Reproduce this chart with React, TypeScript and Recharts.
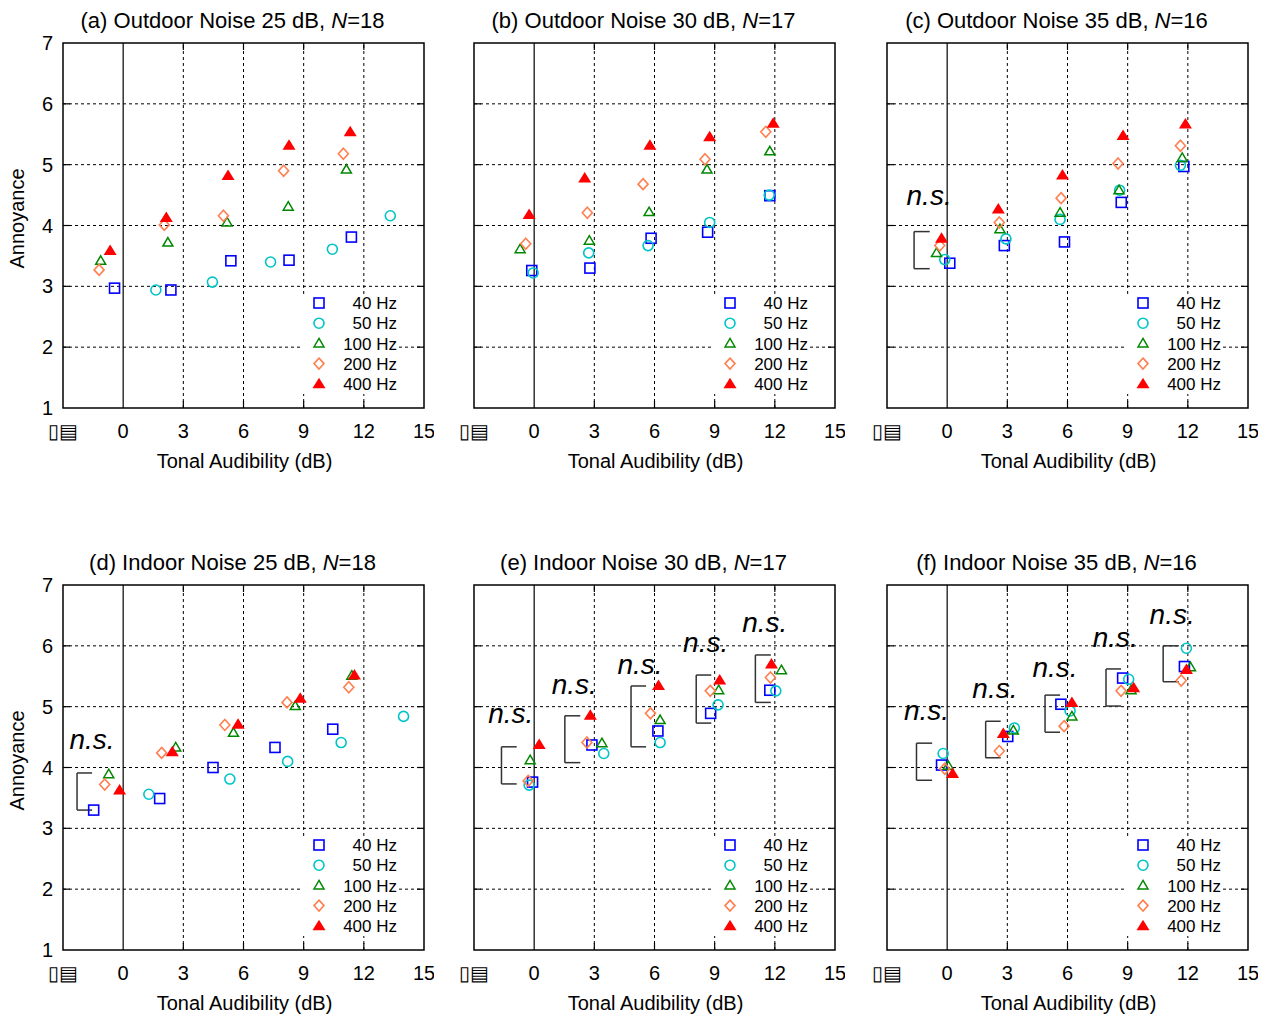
import {
  Label,
  Legend,
  ReferenceArea,
  ReferenceLine,
  Scatter,
  ScatterChart,
  XAxis,
  YAxis,
} from 'recharts'

type Pt = [number, number]
type Bracket = [number, number, number, number] // x of spine, x of arms, y top, y bottom

const FREQS = ['40 Hz', '50 Hz', '100 Hz', '200 Hz', '400 Hz']
const COLORS = ['#0000ff', '#00c4c8', '#008800', '#ff7f50', '#ff0000']
const X_TICKS = [-3, 0, 3, 6, 9, 12, 15]
const Y_TICKS = [1, 2, 3, 4, 5, 6, 7]
const X_GRID = [3, 6, 9, 12]
const Y_GRID = [2, 3, 4, 5, 6]

// [tonal audibility, annoyance] — one row per frequency (40, 50, 100, 200, 400 Hz)
const outdoor25: Pt[][] = [
  [[-0.43, 2.97], [2.38, 2.94], [5.37, 3.42], [8.27, 3.43], [11.38, 3.81]],
  [[1.63, 2.94], [4.45, 3.07], [7.35, 3.4], [10.43, 3.61], [13.32, 4.16]],
  [[-1.12, 3.42], [2.23, 3.72], [5.18, 4.05], [8.23, 4.31], [11.13, 4.92]],
  [[-1.2, 3.27], [2.05, 4.01], [5.0, 4.16], [8.0, 4.9], [10.98, 5.18]],
  [[-0.65, 3.59], [2.15, 4.13], [5.23, 4.82], [8.27, 5.32], [11.32, 5.54]],
]
const outdoor30: Pt[][] = [
  [[-0.12, 3.26], [2.78, 3.3], [5.83, 3.79], [8.65, 3.89], [11.75, 4.49]],
  [[-0.05, 3.22], [2.72, 3.55], [5.68, 3.67], [8.75, 4.05], [11.72, 4.5]],
  [[-0.7, 3.61], [2.75, 3.75], [5.73, 4.22], [8.62, 4.92], [11.75, 5.22]],
  [[-0.42, 3.7], [2.65, 4.21], [5.43, 4.68], [8.52, 5.09], [11.55, 5.54]],
  [[-0.25, 4.18], [2.52, 4.78], [5.77, 5.32], [8.75, 5.46], [11.92, 5.68]],
]
const outdoor35: Pt[][] = [
  [[0.13, 3.38], [2.85, 3.67], [5.85, 3.73], [8.68, 4.38], [11.8, 4.97]],
  [[-0.12, 3.44], [2.93, 3.78], [5.63, 4.1], [8.6, 4.58], [11.63, 4.99]],
  [[-0.53, 3.55], [2.63, 3.94], [5.63, 4.21], [8.57, 4.58], [11.72, 5.11]],
  [[-0.37, 3.67], [2.6, 4.05], [5.68, 4.45], [8.52, 5.02], [11.63, 5.31]],
  [[-0.28, 3.79], [2.55, 4.27], [5.75, 4.83], [8.77, 5.48], [11.88, 5.67]],
]
const indoor25: Pt[][] = [
  [[-1.47, 3.3], [1.82, 3.49], [4.48, 4.0], [7.57, 4.33], [10.45, 4.63]],
  [[1.28, 3.56], [5.32, 3.81], [8.2, 4.1], [10.87, 4.41], [13.98, 4.84]],
  [[-0.72, 3.89], [2.62, 4.33], [5.5, 4.57], [8.58, 5.01], [11.4, 5.51]],
  [[-0.92, 3.72], [1.92, 4.24], [5.07, 4.7], [8.17, 5.07], [11.25, 5.32]],
  [[-0.18, 3.63], [2.45, 4.26], [5.73, 4.71], [8.83, 5.14], [11.53, 5.52]],
]
const indoor30: Pt[][] = [
  [[-0.08, 3.76], [2.88, 4.37], [6.17, 4.6], [8.8, 4.89], [11.75, 5.27]],
  [[-0.25, 3.71], [3.47, 4.23], [6.28, 4.41], [9.17, 5.03], [12.05, 5.26]],
  [[-0.2, 4.12], [3.38, 4.4], [6.28, 4.78], [9.2, 5.27], [12.33, 5.6]],
  [[-0.3, 3.78], [2.63, 4.41], [5.8, 4.89], [8.78, 5.26], [11.78, 5.48]],
  [[0.25, 4.38], [2.8, 4.86], [6.2, 5.35], [9.25, 5.44], [11.83, 5.7]],
]
const indoor35: Pt[][] = [
  [[-0.28, 4.04], [3.02, 4.51], [5.67, 5.04], [8.75, 5.47], [11.83, 5.66]],
  [[-0.2, 4.23], [3.35, 4.65], [6.13, 4.93], [9.05, 5.45], [11.93, 5.96]],
  [[0.05, 4.03], [3.3, 4.61], [6.22, 4.84], [9.17, 5.27], [12.13, 5.65]],
  [[-0.12, 3.98], [2.6, 4.27], [5.83, 4.68], [8.67, 5.26], [11.67, 5.43]],
  [[0.27, 3.9], [2.8, 4.56], [6.22, 5.07], [9.3, 5.31], [11.93, 5.61]],
]

// "n.s." brackets and label positions
const outdoor35Brackets: Bracket[] = [[-1.65, -0.87, 3.9, 3.29]]
const outdoor35Ns: Pt[] = [[-0.9, 4.45]]
const indoor25Brackets: Bracket[] = [[-2.3, -1.55, 3.91, 3.3]]
const indoor25Ns: Pt[] = [[-1.55, 4.42]]
const indoor30Brackets: Bracket[] = [
  [-1.63, -0.87, 4.34, 3.73],
  [1.53, 2.3, 4.85, 4.08],
  [4.83, 5.58, 5.34, 4.34],
  [8.08, 8.83, 5.52, 4.73],
  [11.03, 11.8, 5.85, 5.07],
]
const indoor30Ns: Pt[] = [[-1.17, 4.84], [2.0, 5.33], [5.28, 5.66], [8.55, 6.01], [11.5, 6.35]]
const indoor35Brackets: Bracket[] = [
  [-1.53, -0.75, 4.4, 3.79],
  [1.92, 2.67, 4.76, 4.16],
  [4.88, 5.63, 5.19, 4.58],
  [7.92, 8.67, 5.62, 5.01],
  [10.77, 11.55, 6.0, 5.41],
]
const indoor35Ns: Pt[] = [[-1.03, 4.89], [2.38, 5.26], [5.38, 5.6], [8.38, 6.1], [11.22, 6.48]]

const FONT = '"Liberation Sans", Arial, sans-serif'
const W = 431
const H = 465
const M = { top: 35, right: 10, bottom: 5, left: 0 }

function marker(i: number, cx: number, cy: number) {
  const c = COLORS[i]
  if (i === 0) return <rect x={cx - 5} y={cy - 5} width={10} height={10} fill="none" stroke={c} strokeWidth={1.6} />
  if (i === 1) return <circle cx={cx} cy={cy} r={5} fill="none" stroke={c} strokeWidth={1.6} />
  if (i === 2)
    return <path d={`M${cx},${cy - 5}L${cx + 5},${cy + 3.5}L${cx - 5},${cy + 3.5}Z`} fill="none" stroke={c} strokeWidth={1.5} />
  if (i === 3)
    return <path d={`M${cx},${cy - 5.5}L${cx + 5},${cy}L${cx},${cy + 5.5}L${cx - 5},${cy}Z`} fill="none" stroke={c} strokeWidth={1.6} />
  return <path d={`M${cx},${cy - 6}L${cx + 6.5},${cy + 4.5}L${cx - 6.5},${cy + 4.5}Z`} fill={c} />
}

function KeyBox() {
  return (
    <svg width={96} height={100} style={{ display: 'block' }}>
      {FREQS.map((f, i) => (
        <g key={f}>
          {marker(i, 16, 9 + i * 20.2)}
          <text x={94} y={9 + i * 20.2} dy="0.36em" textAnchor="end" fontSize={17} fontFamily={FONT} fill="#000">
            {f}
          </text>
        </g>
      ))}
    </svg>
  )
}

type PanelProps = {
  left: number
  top: number
  tag: string
  n: number
  series: Pt[][]
  brackets?: Bracket[]
  ns?: Pt[]
  showY?: boolean
}

function Panel({ left, top, tag, n, series, brackets = [], ns = [], showY = false }: PanelProps) {
  const plotW = W - 60 - M.right
  const plotH = H - M.top - M.bottom - 60
  const titleX = 60 + plotW / 2 - 11
  const tx = 0.35 // inward tick length in x units
  const ty = 0.115 // inward tick length in y units
  return (
    <div style={{ position: 'absolute', left, top, width: W, height: H }}>
      <div
        style={{
          position: 'absolute',
          left: titleX - 200,
          top: 2,
          width: 400,
          textAlign: 'center',
          fontSize: 22,
          lineHeight: '22px',
          whiteSpace: 'nowrap',
          fontFamily: FONT,
          zIndex: 2,
        }}
      >
        {tag}, <i>N</i>={n}
      </div>
      <ScatterChart width={W} height={H} margin={M}>
        <XAxis
          type="number"
          dataKey="x"
          domain={[-3, 15]}
          ticks={X_TICKS}
          interval={0}
          allowDataOverflow
          axisLine={false}
          tickLine={false}
          tickSize={6}
          tickMargin={10}
          height={60}
          tick={{ fontSize: 20, fill: '#000', fontFamily: FONT }}
          tickFormatter={(v: number) => (v === -3 ? '▯▤' : String(v))}
        >
          <Label
            content={() => (
              <text x={60 + plotW / 2 + 1} y={M.top + plotH + 60} textAnchor="middle" fontSize={20} fontFamily={FONT} fill="#000">
                Tonal Audibility (dB)
              </text>
            )}
          />
        </XAxis>
        <YAxis
          type="number"
          dataKey="y"
          domain={[1, 7]}
          ticks={Y_TICKS}
          interval={0}
          allowDataOverflow
          width={60}
          axisLine={false}
          tickLine={false}
          tickSize={6}
          tickMargin={4}
          tick={showY ? { fontSize: 20, fill: '#000', fontFamily: FONT } : false}
        >
          {showY && (
            <Label
              content={() => (
                <text
                  x={21}
                  y={M.top + plotH / 2 - 7}
                  transform={`rotate(-90 21 ${M.top + plotH / 2 - 7})`}
                  textAnchor="middle"
                  fontSize={20}
                  fontFamily={FONT}
                  fill="#000"
                >
                  Annoyance
                </text>
              )}
            />
          )}
        </YAxis>

        {X_GRID.map((v) => (
          <ReferenceLine key={`gx${v}`} x={v} stroke="#000" strokeWidth={1} strokeDasharray="3 3" />
        ))}
        {Y_GRID.map((v) => (
          <ReferenceLine key={`gy${v}`} y={v} stroke="#000" strokeWidth={1} strokeDasharray="3 3" />
        ))}
        <ReferenceLine x={0} stroke="#000" strokeWidth={1.2} />
        {X_GRID.map((v) => (
          <ReferenceLine key={`tb${v}`} segment={[{ x: v, y: 1 }, { x: v, y: 1 + ty }]} stroke="#000" strokeWidth={1.2} />
        ))}
        {X_GRID.map((v) => (
          <ReferenceLine key={`tt${v}`} segment={[{ x: v, y: 7 }, { x: v, y: 7 - ty }]} stroke="#000" strokeWidth={1.2} />
        ))}
        {Y_GRID.map((v) => (
          <ReferenceLine key={`tl${v}`} segment={[{ x: -3, y: v }, { x: -3 + tx, y: v }]} stroke="#000" strokeWidth={1.2} />
        ))}
        {Y_GRID.map((v) => (
          <ReferenceLine key={`tr${v}`} segment={[{ x: 15, y: v }, { x: 15 - tx, y: v }]} stroke="#000" strokeWidth={1.2} />
        ))}

        {brackets.map(([xs, , yt, yb], k) => (
          <ReferenceLine key={`bs${k}`} segment={[{ x: xs, y: yt }, { x: xs, y: yb }]} stroke="#333" strokeWidth={1.5} />
        ))}
        {brackets.map(([xs, xa, yt], k) => (
          <ReferenceLine key={`bt${k}`} segment={[{ x: xs, y: yt }, { x: xa, y: yt }]} stroke="#333" strokeWidth={1.5} />
        ))}
        {brackets.map(([xs, xa, , yb], k) => (
          <ReferenceLine key={`bb${k}`} segment={[{ x: xs, y: yb }, { x: xa, y: yb }]} stroke="#333" strokeWidth={1.5} />
        ))}

        <ReferenceArea x1={-3} x2={15} y1={1} y2={7} fill="none" fillOpacity={0} stroke="#000" strokeWidth={1.5} />

        {series.map((pts, i) => (
          <Scatter
            key={FREQS[i]}
            name={FREQS[i]}
            data={pts.map(([x, y]) => ({ x, y }))}
            isAnimationActive={false}
            shape={(p: any) => marker(i, p.cx, p.cy)}
          />
        ))}
        {ns.length > 0 && (
          <Scatter
            name="n.s."
            data={ns.map(([x, y]) => ({ x, y }))}
            isAnimationActive={false}
            shape={(p: any) => (
              <text x={p.cx} y={p.cy + 7} textAnchor="middle" fontSize={28} fontStyle="italic" fontFamily={FONT} fill="#000">
                n.s.
              </text>
            )}
          />
        )}

        <Legend
          layout="horizontal"
          verticalAlign="middle"
          align="center"
          content={() => <KeyBox />}
          wrapperStyle={{ left: 60 + 240, top: M.top + 251, width: 96, height: 100, background: '#fff' }}
        />
      </ScatterChart>
    </div>
  )
}

export default function App() {
  const cols = [3, 414, 827]
  const rows = [8, 550]
  return (
    <div
      style={{
        position: 'absolute',
        left: 0,
        top: 0,
        width: 1270,
        height: 1015,
        overflow: 'hidden',
        background: '#fff',
        fontFamily: FONT,
      }}
    >
      <Panel left={cols[0]} top={rows[0]} tag="(a) Outdoor Noise 25 dB" n={18} series={outdoor25} showY />
      <Panel left={cols[1]} top={rows[0]} tag="(b) Outdoor Noise 30 dB" n={17} series={outdoor30} />
      <Panel
        left={cols[2]}
        top={rows[0]}
        tag="(c) Outdoor Noise 35 dB"
        n={16}
        series={outdoor35}
        brackets={outdoor35Brackets}
        ns={outdoor35Ns}
      />
      <Panel
        left={cols[0]}
        top={rows[1]}
        tag="(d) Indoor Noise 25 dB"
        n={18}
        series={indoor25}
        brackets={indoor25Brackets}
        ns={indoor25Ns}
        showY
      />
      <Panel
        left={cols[1]}
        top={rows[1]}
        tag="(e) Indoor Noise 30 dB"
        n={17}
        series={indoor30}
        brackets={indoor30Brackets}
        ns={indoor30Ns}
      />
      <Panel
        left={cols[2]}
        top={rows[1]}
        tag="(f) Indoor Noise 35 dB"
        n={16}
        series={indoor35}
        brackets={indoor35Brackets}
        ns={indoor35Ns}
      />
    </div>
  )
}
